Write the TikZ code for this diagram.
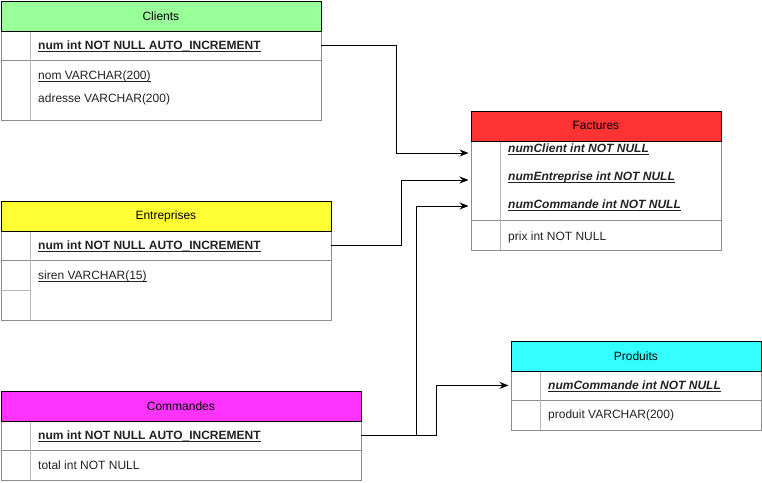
\documentclass[tikz,border=0pt]{standalone}
\usepackage{fontspec}
\setmainfont{Liberation Sans}
\usetikzlibrary{arrows.meta}
\definecolor{hgreen}{HTML}{99FF99}
\definecolor{hred}{HTML}{FF3333}
\definecolor{hyellow}{HTML}{FFFF33}
\definecolor{hmag}{HTML}{FF33FF}
\definecolor{hcyan}{HTML}{33FFFF}
\definecolor{bgrey}{HTML}{8C8C8C}
\definecolor{sgrey}{HTML}{B8B8B8}
\definecolor{txt}{HTML}{222222}
\newsavebox\myulbox
\newcommand{\myul}[1]{\sbox\myulbox{#1}\leavevmode\rlap{\usebox\myulbox}\vrule width\wd\myulbox height -1.6pt depth 2.9pt\relax}
\newcommand{\keyf}[1]{\myul{\textbf{#1}}}
\newcommand{\keyfi}[1]{\myul{\textbf{\textit{#1}}}}
\tikzset{
  hdr/.style={draw=black, line width=0.8pt, anchor=north west, inner sep=0pt, minimum height=30pt, font=\fontsize{12}{14}\selectfont, text=black},
  rowbox/.style={draw=bgrey, line width=0.8pt, anchor=north west, inner sep=0pt},
  hidebox/.style={draw=none, anchor=west, inner sep=0pt, minimum width=250pt},
  fld/.style={anchor=base west, inner sep=0pt, font=\fontsize{12}{14}\selectfont, text=txt},
  sep/.style={draw=sgrey, line width=0.8pt},
  conn/.style={draw=black, line width=0.9pt, -{Stealth[length=9pt,width=7pt]}}
}
\begin{document}
\begin{tikzpicture}[x=1pt,y=-1pt]
\useasboundingbox (0,0) rectangle (762,482);
% ---------- Clients ----------
\node[rowbox, minimum width=320pt, minimum height=30pt] (ck) at (0.5,30) {};
\node[rowbox, minimum width=320pt, minimum height=60pt] (cb) at (0.5,60) {};
\draw[sep] (30.5,30) -- (30.5,120);
\node[hdr, fill=hgreen, minimum width=320pt] (ch) at (0.5,0.5) {Clients};
\node[fld] (c1) at (38,49.5) {\keyf{num int NOT NULL AUTO\_INCREMENT}};
\node[fld] (c2) at (38,79.5) {\myul{nom VARCHAR(200)}};
\node[fld] (c3) at (38,102.5) {adresse VARCHAR(200)};
% ---------- Entreprises ----------
\node[rowbox, minimum width=330pt, minimum height=30pt] (ek) at (0.5,230) {};
\node[rowbox, minimum width=330pt, minimum height=60pt] (eb) at (0.5,260) {};
\draw[sep] (30.5,230) -- (30.5,320);
\draw[sep] (0.5,290) -- (30.5,290);
\node[hdr, fill=hyellow, minimum width=330pt] (eh) at (0.5,200.5) {Entreprises};
\node[fld] (e1) at (38,249.5) {\keyf{num int NOT NULL AUTO\_INCREMENT}};
\node[fld] (e2) at (38,279.5) {\myul{siren VARCHAR(15)}};
% ---------- Commandes ----------
\node[rowbox, minimum width=360pt, minimum height=30pt] (mk) at (0.5,420) {};
\node[rowbox, minimum width=360pt, minimum height=30pt] (mb) at (0.5,450) {};
\draw[sep] (30.5,420) -- (30.5,480);
\node[hdr, fill=hmag, minimum width=360pt] (mh) at (0.5,390.5) {Commandes};
\node[fld] (m1) at (38,439.5) {\keyf{num int NOT NULL AUTO\_INCREMENT}};
\node[fld] (m2) at (38,469.5) {total int NOT NULL};
% ---------- Factures ----------
\node[rowbox, minimum width=250pt, minimum height=80pt] (fk) at (470.5,140) {};
\node[rowbox, minimum width=250pt, minimum height=30pt] (fb) at (470.5,220) {};
\draw[sep] (500.5,140) -- (500.5,250);
\node[hdr, fill=hred, minimum width=250pt] (fh) at (470.5,110.5) {Factures};
\node[hidebox, minimum height=26pt] (fr1) at (470.5,153) {};
\node[hidebox, minimum height=26pt] (fr2) at (470.5,180) {};
\node[hidebox, minimum height=26pt] (fr3) at (470.5,206) {};
\node[fld] (f1) at (508,152.5) {\keyfi{numClient int NOT NULL}};
\node[fld] (f2) at (508,180.5) {\keyfi{numEntreprise int NOT NULL}};
\node[fld] (f3) at (508,208.5) {\keyfi{numCommande int NOT NULL}};
\node[fld] (f4) at (508,240.5) {prix int NOT NULL};
% ---------- Produits ----------
\node[rowbox, minimum width=250pt, minimum height=30pt] (pk) at (510.5,370) {};
\node[rowbox, minimum width=250pt, minimum height=30pt] (pb) at (510.5,400) {};
\draw[sep] (540.5,370) -- (540.5,430);
\node[hdr, fill=hcyan, minimum width=250pt] (ph) at (510.5,340.5) {Produits};
\node[fld] (p1) at (548,389.5) {\keyfi{numCommande int NOT NULL}};
\node[fld] (p2) at (548,418.5) {produit VARCHAR(200)};
% ---------- connectors ----------
\draw[conn] (ck.east) -- ++(75,0) |- ([xshift=-2pt]fr1.west);
\draw[conn] (ek.east) -- ++(70,0) |- ([xshift=-2pt]fr2.west);
\draw[conn] (mk.east) -- ++(55,0) |- ([xshift=-2pt]fr3.west);
\draw[conn] (mk.east) -- ++(75,0) |- ([xshift=-2pt]pk.west);
\end{tikzpicture}
\end{document}
